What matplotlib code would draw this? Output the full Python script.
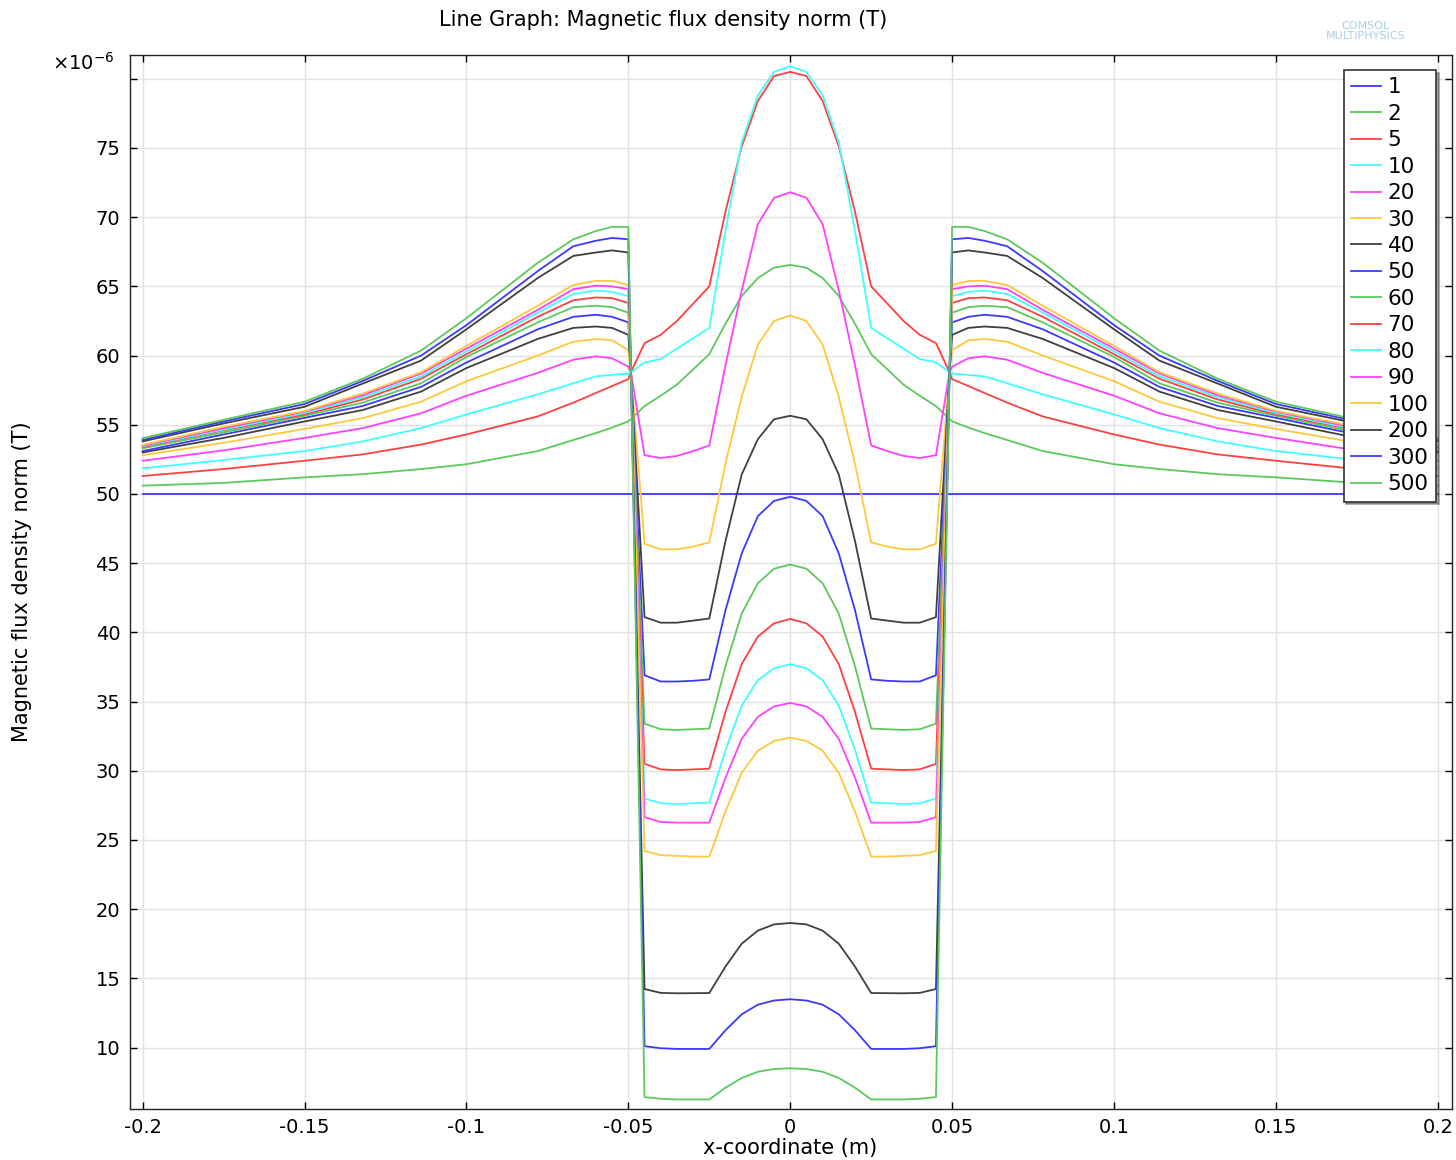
import numpy as np
import matplotlib
matplotlib.use("Agg")
import matplotlib.pyplot as plt

plt.rcParams['axes.unicode_minus'] = False

# x positions (left half, mirrored for the right half)
x_half = [-0.2, -0.175, -0.15, -0.132, -0.114, -0.1, -0.078, -0.067, -0.06, -0.055, -0.05,
          -0.0492, -0.045, -0.04, -0.035, -0.03, -0.025,
          -0.02, -0.015, -0.01, -0.005, 0.0]

# B norm in 1e-6 T (left half)
c1 = [50.0, 50.0, 50.0, 50.0, 50.0, 50.0, 50.0, 50.0, 50.0, 50.0, 50.0,
      50.0, 50.0, 50.0, 50.0, 50.0, 50.0, 50.0, 50.0, 50.0, 50.0, 50.0]
c2 = [50.6, 50.8, 51.2, 51.43, 51.8, 52.15, 53.1, 53.9, 54.4, 54.8, 55.25,
      55.4, 56.35, 57.1, 57.9, 59.0, 60.1, 62.3, 64.3, 65.6, 66.35, 66.55]
c5 = [51.3, 51.8, 52.4, 52.86, 53.57, 54.3, 55.6, 56.6, 57.3, 57.8, 58.3,
      58.8, 60.9, 61.5, 62.5, 63.75, 65.0, 70.4, 75.1, 78.4, 80.2, 80.5]
c10 = [51.85, 52.45, 53.1, 53.8, 54.76, 55.75, 57.2, 58.0, 58.5, 58.6, 58.7,
       58.8, 59.5, 59.75, 60.5, 61.25, 62.0, 69.0, 75.4, 78.8, 80.5, 80.9]
c20 = [52.4, 53.15, 54.05, 54.76, 55.83, 57.1, 58.75, 59.7, 59.95, 59.8, 59.2,
       58.8, 52.8, 52.6, 52.75, 53.1, 53.5, 59.3, 64.7, 69.5, 71.4, 71.8]
c30 = [52.8, 53.7, 54.7, 55.48, 56.67, 58.15, 60.0, 61.0, 61.2, 61.1, 60.4,
       58.8, 46.4, 46.0, 46.0, 46.2, 46.5, 52.2, 57.0, 60.8, 62.5, 62.9]
c40 = [53.0, 54.05, 55.24, 56.07, 57.4, 59.1, 61.2, 62.0, 62.1, 62.0, 61.5,
       58.8, 41.1, 40.7, 40.7, 40.85, 41.0, 46.6, 51.4, 53.96, 55.4, 55.65]
c50 = [53.1, 54.3, 55.5, 56.36, 57.74, 59.5, 61.9, 62.8, 62.95, 62.8, 62.4,
       58.8, 36.9, 36.45, 36.45, 36.5, 36.6, 41.6, 45.7, 48.4, 49.5, 49.8]
c60 = [53.3, 54.45, 55.65, 56.6, 58.0, 59.9, 62.4, 63.5, 63.6, 63.5, 63.1,
       58.8, 33.4, 33.0, 32.95, 33.0, 33.05, 37.55, 41.35, 43.55, 44.6, 44.9]
c70 = [53.4, 54.6, 55.75, 56.83, 58.33, 60.1, 62.8, 64.0, 64.2, 64.15, 63.8,
       58.8, 30.5, 30.1, 30.05, 30.1, 30.15, 34.25, 37.7, 39.7, 40.65, 40.97]
c80 = [53.45, 54.65, 55.85, 57.0, 58.5, 60.3, 63.1, 64.45, 64.7, 64.6, 64.3,
       58.8, 28.0, 27.65, 27.6, 27.65, 27.7, 31.5, 34.7, 36.55, 37.4, 37.7]
c90 = [53.5, 54.75, 55.95, 57.14, 58.7, 60.5, 63.3, 64.8, 65.05, 65.0, 64.8,
       58.8, 26.65, 26.3, 26.25, 26.25, 26.25, 29.5, 32.3, 33.9, 34.65, 34.9]
c100 = [53.55, 54.85, 56.0, 57.26, 58.8, 60.7, 63.6, 65.1, 65.4, 65.4, 65.1,
        58.8, 24.2, 23.9, 23.85, 23.8, 23.8, 27.05, 29.85, 31.45, 32.15, 32.4]
c200 = [53.8, 55.1, 56.3, 57.98, 59.64, 61.9, 65.6, 67.2, 67.45, 67.6, 67.45,
        58.8, 14.23, 13.95, 13.92, 13.93, 13.94, 15.85, 17.5, 18.45, 18.9, 19.0]
c300 = [53.9, 55.24, 56.5, 58.17, 60.0, 62.2, 66.1, 67.9, 68.3, 68.5, 68.4,
        58.8, 10.1, 9.95, 9.9, 9.9, 9.9, 11.25, 12.4, 13.1, 13.4, 13.49]
c500 = [54.03, 55.36, 56.67, 58.33, 60.36, 62.7, 66.7, 68.4, 69.0, 69.3, 69.3,
        58.8, 6.42, 6.3, 6.25, 6.25, 6.25, 7.1, 7.8, 8.25, 8.45, 8.5]

labels = ['1', '2', '5', '10', '20', '30', '40', '50', '60', '70', '80', '90',
          '100', '200', '300', '500']
series = [c1, c2, c5, c10, c20, c30, c40, c50, c60, c70, c80, c90,
          c100, c200, c300, c500]

xticks = [-0.2, -0.15, -0.1, -0.05, 0, 0.05, 0.1, 0.15, 0.2]
xticklabels = ['-0.2', '-0.15', '-0.1', '-0.05', '0', '0.05', '0.1', '0.15', '0.2']
yticks = [10, 15, 20, 25, 30, 35, 40, 45, 50, 55, 60, 65, 70, 75, 80]
yticklabels = ['10', '15', '20', '25', '30', '35', '40', '45', '50', '55', '60',
               '65', '70', '75', '']

colors = ['#3a3aff', '#5cc95c', '#ff4040', '#40ffff', '#ff40ff', '#ffc83c', '#404040']

# symmetric profile: mirror the left half
xh = np.array(x_half)
x_full = np.concatenate([xh, -xh[::-1][1:]])

fig = plt.figure(figsize=(14.56, 11.6), dpi=100)
ax = fig.add_axes([0.0893, 0.0442, 0.908, 0.9084])

for i, (lab, s) in enumerate(zip(labels, series)):
    s = np.array(s)
    y_full = np.concatenate([s, s[::-1][1:]])
    ax.plot(x_full, y_full, color=colors[i % len(colors)], lw=1.3, label=lab)

ax.set_xlim(-0.2039, 0.2044)
ax.set_ylim(5.58, 81.72)
ax.set_xticks(xticks)
ax.set_xticklabels(xticklabels)
ax.set_yticks(yticks)
ax.set_yticklabels(yticklabels)
ax.grid(True, color='#e2e2e2', lw=1)
ax.set_axisbelow(True)
ax.tick_params(direction='in', top=True, right=True, length=5, width=1,
               labelsize=14, pad=7)
for sp in ax.spines.values():
    sp.set_linewidth(1.0)
    sp.set_color('#222222')

leg = ax.legend(loc='upper right', bbox_to_anchor=(0.988, 0.986), borderaxespad=0,
                fontsize=15.5, handlelength=1.4, handletextpad=0.3, labelspacing=0.3,
                fancybox=False, shadow=True, framealpha=1, borderpad=0.35)
leg.get_frame().set_edgecolor('#333333')
leg.get_frame().set_linewidth(1.2)

fig.text(83 / 1456, 1 - 63 / 1160, r'$\times10^{-6}$', fontsize=14,
         ha='center', va='center')
fig.text(663 / 1456, 1 - 20 / 1160, 'Line Graph: Magnetic flux density norm (T)',
         fontsize=15, ha='center', va='center')
fig.text(22 / 1456, 1 - 582 / 1160, 'Magnetic flux density norm (T)', fontsize=15,
         rotation=90, ha='center', va='center')
fig.text(790 / 1456, 1 - 1148 / 1160, 'x-coordinate (m)', fontsize=15,
         ha='center', va='center')
fig.text(1366 / 1456, 1 - 31 / 1160, 'COMSOL\nMULTIPHYSICS', fontsize=8,
         color='#a9cfe4', ha='center', va='center', linespacing=0.9)

fig.savefig('out.png', dpi=100)
